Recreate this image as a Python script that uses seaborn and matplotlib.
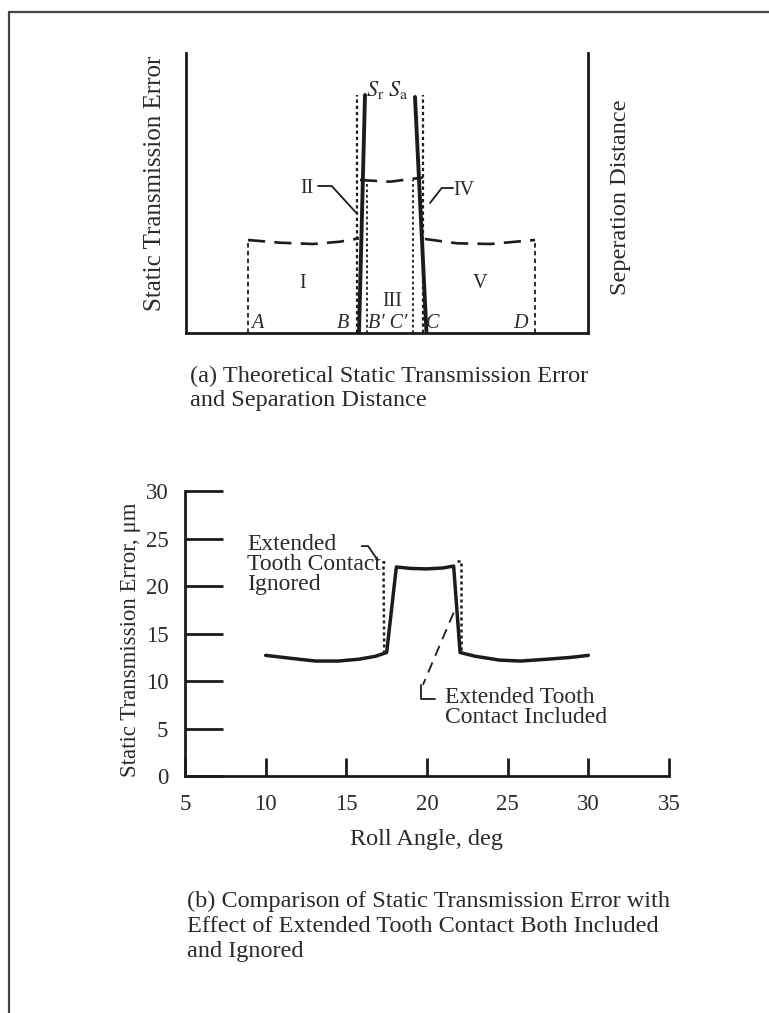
import numpy as np
import pandas as pd
import matplotlib
matplotlib.use("Agg")
import matplotlib.pyplot as plt
import seaborn as sns
from matplotlib.lines import Line2D

sns.set_theme(style="white")
plt.rcParams['font.family'] = ['Liberation Serif', 'DejaVu Serif']
plt.rcParams['mathtext.fontset'] = 'stix'

INK = '#1c1c1c'
TXT = '#2a2a2a'

# ---------------- Panel (a): schematic (arbitrary units) ----------------
reg1_x = [62, 94, 127, 154, 173]
reg1_y = [93, 90.3, 89, 91.3, 94.7]
reg3_x = [174, 204, 237]
reg3_y = [153, 151.3, 155.5]
reg5_x = [239, 271, 304, 349]
reg5_y = [94, 89.7, 89, 93]
sr_x = [173, 179]
sr_y = [0, 238]
sa_x = [229, 240.5]
sa_y = [236, 0]
# boundary markers: position, height
outer_pos = [62, 349]          # A, D
outer_top = [93, 93]
sep_pos = [170.7, 237]         # dotted lines beside S_r / S_a
sep_top = [238, 238]
inner_pos = [181, 227]         # B', C'
inner_top = [153, 153]

# ---------------- Panel (b): static transmission error ----------------
angle = [10, 11.5, 13.1, 14.5, 15.8, 16.8, 17.5, 18.1, 19.0, 20.0, 21.0, 21.65,
         22.05, 23.0, 24.5, 25.8, 27.5, 29.0, 30.0]
ste_included = [12.7, 12.4, 12.1, 12.1, 12.3, 12.6, 13.0, 22.0, 21.85, 21.8, 21.9, 22.1,
                13.0, 12.6, 12.2, 12.1, 12.3, 12.5, 12.7]
ign_left_x = [17.35, 17.3, 17.55]
ign_left_y = [12.9, 22.5, 22.5]
ign_right_x = [21.85, 22.1, 22.1]
ign_right_y = [22.6, 22.6, 12.9]
xticks = [5, 10, 15, 20, 25, 30, 35]
yticks = [0, 5, 10, 15, 20, 25, 30]

W, H = 769, 1013
fig = plt.figure(figsize=(W / 100, H / 100), dpi=100)
fig.patch.set_facecolor('white')


def rect(l, t, r, b):
    return [l / W, 1 - b / H, (r - l) / W, (b - t) / H]


# ======================= Panel (a) =======================
axa = fig.add_axes(rect(186, 53, 588, 333))
axa.set_xlim(0, 402)
axa.set_ylim(0, 280)
axa.set_facecolor('none')
for s in ['left', 'right', 'bottom']:
    axa.spines[s].set_visible(True)
    axa.spines[s].set_color(INK)
    axa.spines[s].set_linewidth(2.0)
axa.spines['top'].set_visible(False)
axa.set_xticks([])
axa.set_yticks([])

dash_long = (0, (6.5, 3.5))
for xs, ys in [(reg1_x, reg1_y), (reg3_x, reg3_y), (reg5_x, reg5_y)]:
    sns.lineplot(x=xs, y=ys, ax=axa, color=INK, lw=1.9, linestyle=dash_long,
                 estimator=None, sort=False)
for xs, ys in [(sr_x, sr_y), (sa_x, sa_y)]:
    sns.lineplot(x=xs, y=ys, ax=axa, color=INK, lw=2.8, estimator=None, sort=False)
for p, t in zip(outer_pos, outer_top):
    axa.plot([p, p], [0, t], color=INK, lw=1.3, linestyle=(0, (2.5, 1.8)))
for p, t in zip(sep_pos, sep_top):
    axa.plot([p, p], [0, t], color=INK, lw=1.6, linestyle=(0, (1.5, 1.3)))
for p, t in zip(inner_pos, inner_top):
    axa.plot([p, p], [0, t], color=INK, lw=1.3, linestyle=(0, (1.5, 1.5)))

# leader lines II / IV
axa.plot([132, 145.7, 170.7], [147, 147, 119.7], color=INK, lw=1.3)
axa.plot([267, 255.7, 244], [145, 145, 130], color=INK, lw=1.3)

fs_a = 14.5
axa.text(117, 50, 'I', ha='center', va='center', fontsize=fs_a, color=TXT)
axa.text(294, 50, 'V', ha='center', va='center', fontsize=fs_a, color=TXT)
axa.text(206, 31, 'III', ha='center', va='center', fontsize=fs_a, color=TXT)
axa.text(121, 145, 'II', ha='center', va='center', fontsize=fs_a, color=TXT)
axa.text(278, 143, 'IV', ha='center', va='center', fontsize=fs_a, color=TXT)
for lab, xp in [('A', 71), ('B', 157), ('B′ C′', 202), ('C', 247), ('D', 334)]:
    axa.text(xp, 10, lab, ha='center', va='center', fontsize=fs_a, color=TXT,
             style='italic')
axa.text(201, 243, r'$S_{\mathrm{r}}\ S_{\mathrm{a}}$', ha='center', va='center',
         fontsize=16, color=TXT)

axa.text(-0.077, 0.536, 'Static Transmission Error', transform=axa.transAxes,
         rotation=90, ha='center', va='center', fontsize=18, color=TXT)
axa.text(1.08, 0.486, 'Seperation Distance', transform=axa.transAxes, rotation=90,
         ha='center', va='center', fontsize=17.5, color=TXT)

# ======================= Panel (b) =======================
axb = fig.add_axes(rect(185, 491, 669, 776))
axb.set_facecolor('none')
axb.set_xlim(5, 35)
axb.set_ylim(0, 30)
for s in ['left', 'bottom']:
    axb.spines[s].set_visible(True)
    axb.spines[s].set_color(INK)
    axb.spines[s].set_linewidth(2.0)
for s in ['top', 'right']:
    axb.spines[s].set_visible(False)

sns.lineplot(x=angle, y=ste_included, ax=axb, color=INK, lw=2.5,
             estimator=None, sort=False)
for xs, ys in [(ign_left_x, ign_left_y), (ign_right_x, ign_right_y)]:
    sns.lineplot(x=xs, y=ys, ax=axb, color=INK, lw=1.8, linestyle=(0, (1.2, 1.2)),
                 estimator=None, sort=False)

axb.set_xticks(xticks)
axb.set_yticks(yticks)
axb.set_xticklabels([str(v) for v in xticks])
axb.set_yticklabels([str(v) for v in yticks])
axb.tick_params(axis='x', direction='in', length=13, width=2.0, color=INK,
                labelsize=16.5, labelcolor=TXT, pad=13, bottom=True)
axb.tick_params(axis='y', direction='in', length=27, width=2.0, color=INK,
                labelsize=16.5, labelcolor=TXT, pad=12, left=True)

axb.set_xlabel('Roll Angle, deg', fontsize=17.5, color=TXT)
axb.xaxis.set_label_coords(0.5, -0.185)
axb.set_ylabel('Static Transmission Error, μm', fontsize=16.5, color=TXT)
axb.yaxis.set_label_coords(-0.09, 0.477)

axb.text(8.85, 25.5, 'Extended\nTooth Contact\nIgnored', ha='left', va='top',
         fontsize=17, color=TXT, linespacing=0.95)
axb.plot([15.95, 16.35, 16.95], [24.2, 24.2, 22.7], color=INK, lw=1.3)

axb.text(21.1, 9.4, 'Extended Tooth\nContact Included', ha='left', va='top',
         fontsize=17, color=TXT, linespacing=0.95)
axb.plot([21.65, 19.75], [17.2, 9.6], color=INK, lw=1.3, linestyle=(0, (6, 4)))
axb.plot([19.6, 19.6, 20.5], [9.6, 8.1, 8.1], color=INK, lw=1.3)

# ======================= Captions =======================
cap_fs = 17.5
fig.text(190 / W, 1 - 376 / H, '(a) Theoretical Static Transmission Error',
         ha='left', va='center', fontsize=cap_fs, color=TXT)
fig.text(190 / W, 1 - 400 / H, 'and Separation Distance',
         ha='left', va='center', fontsize=cap_fs, color=TXT)
fig.text(187 / W, 1 - 901 / H, '(b) Comparison of Static Transmission Error with',
         ha='left', va='center', fontsize=cap_fs, color=TXT)
fig.text(187 / W, 1 - 926 / H, 'Effect of Extended Tooth Contact Both Included',
         ha='left', va='center', fontsize=cap_fs, color=TXT)
fig.text(187 / W, 1 - 951 / H, 'and Ignored',
         ha='left', va='center', fontsize=cap_fs, color=TXT)

# page frame
fig.add_artist(Line2D([9 / W, 1.0], [1 - 12 / H, 1 - 12 / H], transform=fig.transFigure,
                      color='#444444', lw=1.6))
fig.add_artist(Line2D([9 / W, 9 / W], [1 - 12 / H, 0.0], transform=fig.transFigure,
                      color='#444444', lw=1.6))

fig.savefig('out.png', dpi=100, facecolor='white')
